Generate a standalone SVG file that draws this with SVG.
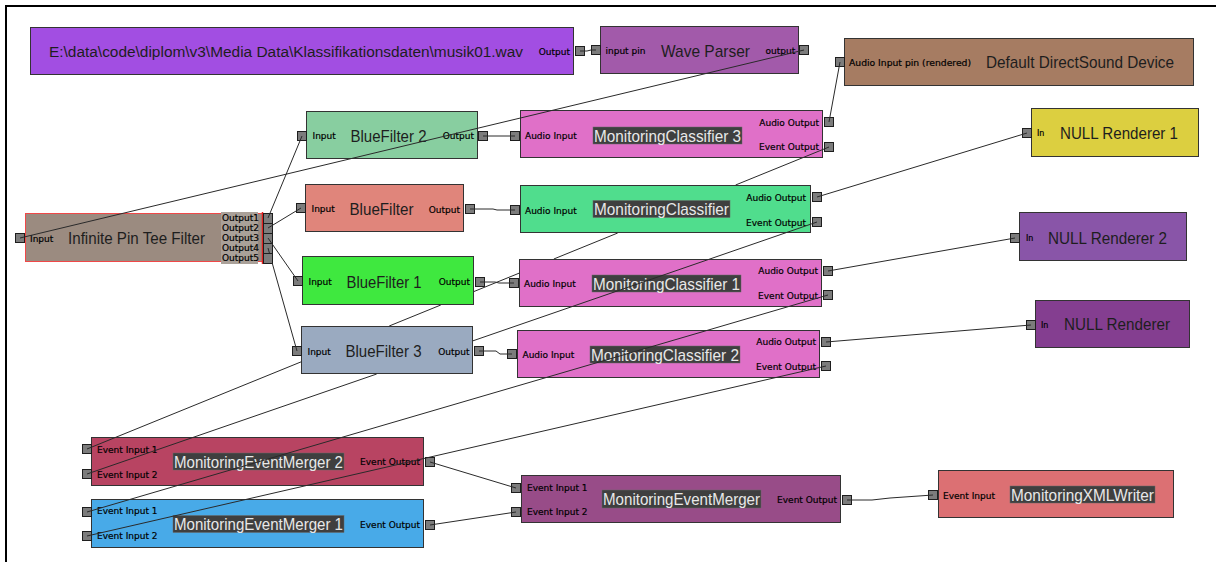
<svg xmlns="http://www.w3.org/2000/svg" width="1216" height="562" viewBox="0 0 1216 562">
<style>
.box{stroke:#333;stroke-width:1}
.pin{fill:#7c7c7c;stroke:#1e1e1e;stroke-width:1}
.t{font-family:"Liberation Sans",Arial,sans-serif;font-size:17px;fill:#1e1e1e}
.tl{font-family:"Liberation Sans",Arial,sans-serif;font-size:17px;fill:#e8e8e8}
.tb{fill:#3f3f3f;stroke:#6a6a6a;stroke-width:0.5}
.p{font-family:"DejaVu Sans",Verdana,sans-serif;font-size:9px;fill:#000;stroke:#000;stroke-width:0.2}
.s{font-size:8px}
.e{text-anchor:end}
.c{fill:none;stroke:#2a2a2a;stroke-width:1}
</style>
<rect x="0" y="0" width="1216" height="562" fill="#ffffff"/>
<path d="M6,562 V6 H1216" fill="none" stroke="#000" stroke-width="2"/>

<g id="nodes">
<g id="source">
<rect class="box" x="30.5" y="27.5" width="543" height="47" fill="#a24ee2"/>
<text class="t" x="49" y="57" style="font-size:15.5px" textLength="474" lengthAdjust="spacingAndGlyphs">E:\data\code\diplom\v3\Media Data\Klassifikationsdaten\musik01.wav</text>
<text class="p e" x="570" y="55">Output</text>
<rect class="pin" x="575.5" y="46.5" width="9" height="9"/>
</g>
<g id="wave-parser">
<rect class="box" x="600.5" y="26.5" width="198" height="47" fill="#a25aaa"/>
<text class="p" x="605.5" y="54">input pin</text>
<text class="t" x="661" y="56.5" textLength="89" lengthAdjust="spacingAndGlyphs">Wave Parser</text>
<text class="p" x="765.5" y="54">output</text>
<rect class="pin" x="591.5" y="45.5" width="9" height="9"/>
<rect class="pin" x="799.5" y="45.5" width="9" height="9"/>
</g>
<g id="directsound">
<rect class="box" x="844.5" y="38.5" width="349" height="47" fill="#a67c62"/>
<text class="p" x="849" y="65.5" textLength="122" lengthAdjust="spacingAndGlyphs">Audio Input pin (rendered)</text>
<text class="t" x="986" y="68" textLength="188" lengthAdjust="spacingAndGlyphs">Default DirectSound Device</text>
<rect class="pin" x="835.5" y="57.5" width="9" height="9"/>
</g>
<g id="null-renderer-1">
<rect class="box" x="1031.5" y="108.5" width="167" height="48" fill="#dccf40"/>
<text class="p s" x="1037" y="136">In</text>
<text class="t" x="1060" y="138.5" textLength="118" lengthAdjust="spacingAndGlyphs">NULL Renderer 1</text>
<rect class="pin" x="1022.5" y="128.5" width="9" height="9"/>
</g>
<g id="null-renderer-2">
<rect class="box" x="1019.5" y="212.5" width="167" height="48" fill="#8955a8"/>
<text class="p s" x="1026" y="241">In</text>
<text class="t" x="1048" y="243.5" textLength="119" lengthAdjust="spacingAndGlyphs">NULL Renderer 2</text>
<rect class="pin" x="1010.5" y="233.5" width="9" height="9"/>
</g>
<g id="null-renderer">
<rect class="box" x="1035.5" y="300.5" width="154" height="47" fill="#843e90"/>
<text class="p s" x="1041" y="328">In</text>
<text class="t" x="1064" y="330" textLength="106" lengthAdjust="spacingAndGlyphs">NULL Renderer</text>
<rect class="pin" x="1026.5" y="320.5" width="9" height="9"/>
</g>
<g id="bluefilter-2">
<rect class="box" x="306.5" y="111.5" width="171" height="47" fill="#88cea0"/>
<text class="p" x="312.5" y="139">Input</text>
<text class="t" x="350.5" y="141.5" textLength="76" lengthAdjust="spacingAndGlyphs">BlueFilter 2</text>
<text class="p e" x="474" y="139">Output</text>
<rect class="pin" x="297.5" y="131.5" width="9" height="9"/>
<rect class="pin" x="478.5" y="131.5" width="9" height="9"/>
</g>
<g id="bluefilter">
<rect class="box" x="305.5" y="184.5" width="158" height="47" fill="#e0857b"/>
<text class="p" x="311.5" y="212">Input</text>
<text class="t" x="349.5" y="215" textLength="64" lengthAdjust="spacingAndGlyphs">BlueFilter</text>
<text class="p e" x="460" y="212.5">Output</text>
<rect class="pin" x="296.5" y="203.5" width="9" height="9"/>
<rect class="pin" x="465.5" y="204.5" width="9" height="9"/>
</g>
<g id="bluefilter-1">
<rect class="box" x="302.5" y="256.5" width="171" height="48" fill="#3fe83f"/>
<text class="p" x="308.5" y="285">Input</text>
<text class="t" x="346.5" y="287.5" textLength="75" lengthAdjust="spacingAndGlyphs">BlueFilter 1</text>
<text class="p e" x="470" y="285">Output</text>
<rect class="pin" x="293.5" y="276.5" width="9" height="9"/>
<rect class="pin" x="475.5" y="277.5" width="9" height="9"/>
</g>
<g id="bluefilter-3">
<rect class="box" x="301.5" y="326.5" width="171" height="47" fill="#9aaac0"/>
<text class="p" x="307.5" y="354.5">Input</text>
<text class="t" x="345.5" y="356.5" textLength="76" lengthAdjust="spacingAndGlyphs">BlueFilter 3</text>
<text class="p e" x="469.5" y="354.5">Output</text>
<rect class="pin" x="292.5" y="346.5" width="9" height="9"/>
<rect class="pin" x="474.5" y="346.5" width="9" height="9"/>
</g>
<g id="infinite-pin-tee">
<rect x="25.5" y="213.5" width="237" height="48" fill="#9b8b80" stroke="#f04848" stroke-width="1"/>
<rect x="221" y="212" width="37" height="52" fill="#aaa199"/>
<line x1="262.5" y1="212" x2="262.5" y2="264" stroke="#e02020" stroke-width="1.5"/>
<text class="p" x="30" y="241.5">Input</text>
<text class="t" x="68" y="244.3" textLength="137" lengthAdjust="spacingAndGlyphs">Infinite Pin Tee Filter</text>
<text class="p" x="222" y="221">Output1</text>
<text class="p" x="222" y="231">Output2</text>
<text class="p" x="222" y="241">Output3</text>
<text class="p" x="222" y="251">Output4</text>
<text class="p" x="222" y="261">Output5</text>
<rect class="pin" x="15.5" y="233.5" width="9" height="9"/>
<rect class="pin" x="263.5" y="213.5" width="9" height="10"/>
<rect class="pin" x="263.5" y="223.5" width="9" height="10"/>
<rect class="pin" x="263.5" y="233.5" width="9" height="10"/>
<rect class="pin" x="263.5" y="243.5" width="9" height="10"/>
<rect class="pin" x="263.5" y="253.5" width="9" height="10"/>
</g>
<g id="monitoring-classifier-3">
<rect class="box" x="520.5" y="110.5" width="302" height="47" fill="#e070c8"/>
<text class="p" x="525" y="139">Audio Input</text>
<rect class="tb" x="593" y="127" width="149" height="17"/>
<text class="tl" x="594" y="141.5" textLength="147" lengthAdjust="spacingAndGlyphs">MonitoringClassifier 3</text>
<text class="p e" x="819" y="126">Audio Output</text>
<text class="p e" x="819" y="150">Event Output</text>
<rect class="pin" x="510.5" y="131.5" width="9" height="9"/>
<rect class="pin" x="824.5" y="117.5" width="9" height="9"/>
<rect class="pin" x="824.5" y="142.5" width="9" height="9"/>
</g>
<g id="monitoring-classifier">
<rect class="box" x="520.5" y="185.5" width="290" height="47" fill="#50dd8d"/>
<text class="p" x="525" y="213.5">Audio Input</text>
<rect class="tb" x="593" y="200.5" width="137" height="17"/>
<text class="tl" x="594" y="215" textLength="135" lengthAdjust="spacingAndGlyphs">MonitoringClassifier</text>
<text class="p e" x="806" y="200.5">Audio Output</text>
<text class="p e" x="806" y="225.5">Event Output</text>
<rect class="pin" x="510.5" y="205.5" width="9" height="9"/>
<rect class="pin" x="812.5" y="192.5" width="9" height="9"/>
<rect class="pin" x="812.5" y="217.5" width="9" height="9"/>
</g>
<g id="monitoring-classifier-1">
<rect class="box" x="519.5" y="259.5" width="302" height="47" fill="#e070c8"/>
<text class="p" x="524" y="287">Audio Input</text>
<rect class="tb" x="592" y="275" width="149" height="17"/>
<text class="tl" x="593" y="289.5" textLength="147" lengthAdjust="spacingAndGlyphs">MonitoringClassifier 1</text>
<text class="p e" x="818" y="274">Audio Output</text>
<text class="p e" x="818" y="299">Event Output</text>
<rect class="pin" x="509.5" y="278.5" width="9" height="9"/>
<rect class="pin" x="823.5" y="266.5" width="9" height="9"/>
<rect class="pin" x="823.5" y="290.5" width="9" height="9"/>
</g>
<g id="monitoring-classifier-2">
<rect class="box" x="517.5" y="330.5" width="302" height="47" fill="#e070c8"/>
<text class="p" x="522.5" y="358">Audio Input</text>
<rect class="tb" x="590" y="346" width="150" height="17"/>
<text class="tl" x="591" y="360.5" textLength="148" lengthAdjust="spacingAndGlyphs">MonitoringClassifier 2</text>
<text class="p e" x="816" y="345">Audio Output</text>
<text class="p e" x="816" y="369.5">Event Output</text>
<rect class="pin" x="507.5" y="349.5" width="9" height="9"/>
<rect class="pin" x="821.5" y="337.5" width="9" height="9"/>
<rect class="pin" x="821.5" y="361.5" width="9" height="9"/>
</g>
<g id="monitoring-event-merger-2">
<rect class="box" x="91.5" y="437.5" width="332" height="48" fill="#b84462"/>
<text class="p" x="97" y="452.5">Event Input 1</text>
<text class="p" x="97" y="477.5">Event Input 2</text>
<rect class="tb" x="173" y="453" width="171" height="17"/>
<text class="tl" x="174" y="467.8" textLength="169" lengthAdjust="spacingAndGlyphs">MonitoringEventMerger 2</text>
<text class="p e" x="420" y="465">Event Output</text>
<rect class="pin" x="82.5" y="444.5" width="9" height="9"/>
<rect class="pin" x="82.5" y="469.5" width="9" height="9"/>
<rect class="pin" x="425.5" y="457.5" width="9" height="9"/>
</g>
<g id="monitoring-event-merger-1">
<rect class="box" x="91.5" y="499.5" width="332" height="48" fill="#48aae8"/>
<text class="p" x="97" y="514">Event Input 1</text>
<text class="p" x="97" y="539">Event Input 2</text>
<rect class="tb" x="173" y="515.5" width="171" height="17"/>
<text class="tl" x="174" y="530" textLength="169" lengthAdjust="spacingAndGlyphs">MonitoringEventMerger 1</text>
<text class="p e" x="420" y="527.5">Event Output</text>
<rect class="pin" x="82.5" y="507.5" width="9" height="9"/>
<rect class="pin" x="82.5" y="531.5" width="9" height="9"/>
<rect class="pin" x="425.5" y="520.5" width="9" height="9"/>
</g>
<g id="monitoring-event-merger">
<rect class="box" x="521.5" y="475.5" width="319" height="47" fill="#984c88"/>
<text class="p" x="527" y="490.5">Event Input 1</text>
<text class="p" x="527" y="515">Event Input 2</text>
<rect class="tb" x="602" y="490" width="159" height="18"/>
<text class="tl" x="603" y="505" textLength="157" lengthAdjust="spacingAndGlyphs">MonitoringEventMerger</text>
<text class="p e" x="837" y="502.5">Event Output</text>
<rect class="pin" x="511.5" y="483.5" width="9" height="9"/>
<rect class="pin" x="511.5" y="507.5" width="9" height="9"/>
<rect class="pin" x="842.5" y="495.5" width="9" height="9"/>
</g>
<g id="monitoring-xml-writer">
<rect class="box" x="938.5" y="470.5" width="235" height="47" fill="#dc7073"/>
<text class="p" x="943" y="498.5">Event Input</text>
<rect class="tb" x="1010" y="486" width="145" height="17"/>
<text class="tl" x="1011" y="500.5" textLength="143" lengthAdjust="spacingAndGlyphs">MonitoringXMLWriter</text>
<rect class="pin" x="928.5" y="490.5" width="9" height="9"/>
</g>
</g>

<g id="connectors">
<path class="c" d="M580,51 L587,51 L591,50 L596,50"/>
<path class="c" d="M804,50 L20,238"/>
<path class="c" d="M268,218 L302,136"/>
<path class="c" d="M268,228 L301,208"/>
<path class="c" d="M268,238 L298,281"/>
<path class="c" d="M268,248 L269.4,253 M272.2,263 L297,351"/>
<path class="c" d="M483,136 L515,136"/>
<path class="c" d="M470,209 L493,209 L497,210 L515,210"/>
<path class="c" d="M480,282 L495,282 L499,283 L514,283"/>
<path class="c" d="M479,351 L496,351 L500,354 L512,354"/>
<path class="c" d="M829,122 L840,62"/>
<path class="c" d="M829,147 L735.6,185 M617.7,233 L553.8,259 M519.5,273 L474,291.5 M440.8,305 L389.2,326 M301.5,361.7 L87,449"/>
<path class="c" d="M817,197 L1027,133"/>
<path class="c" d="M817,222 L473,340.8 M376.7,374 L87,474"/>
<path class="c" d="M828,271 L1015,238"/>
<path class="c" d="M828,295 L87,512"/>
<path class="c" d="M826,342 L1031,325"/>
<path class="c" d="M826,366 L87,536"/>
<path class="c" d="M430,462 L516,488"/>
<path class="c" d="M430,525 L516,512"/>
<path class="c" d="M847,500 L872,500 L890,498 L933,495"/>
</g>
</svg>
